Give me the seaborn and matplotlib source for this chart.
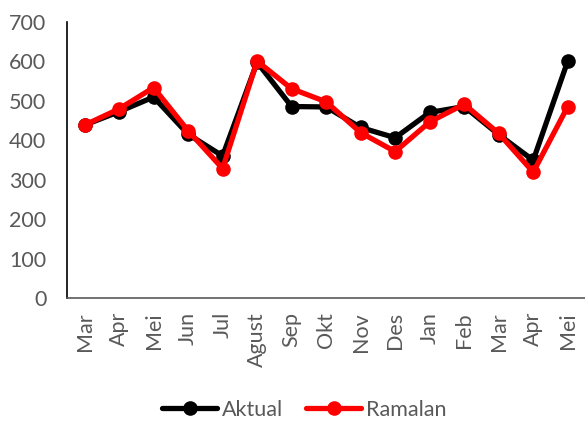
import pandas as pd
import matplotlib.pyplot as plt
import seaborn as sns

bulan = ["Mar", "Apr", "Mei", "Jun", "Jul", "Agust", "Sep", "Okt",
         "Nov", "Des", "Jan", "Feb", "Mar", "Apr", "Mei"]
aktual = [438, 472, 509, 415, 360, 597, 485, 484, 432, 406, 470, 485, 414, 349, 600]
ramalan = [438, 479, 533, 424, 328, 600, 530, 497, 419, 371, 446, 491, 417, 319, 485]

sns.set_style("white")
plt.rcParams["font.family"] = ["Lato", "DejaVu Sans"]

df = pd.DataFrame({
    "idx": list(range(len(bulan))) * 2,
    "nilai": aktual + ramalan,
    "seri": ["Aktual"] * len(bulan) + ["Ramalan"] * len(bulan),
})

fig = plt.figure(figsize=(5.85, 4.23), dpi=100)
ax = fig.add_axes([0.115, 0.295, 0.885, 0.654])

sns.lineplot(data=df, x="idx", y="nilai", hue="seri", sort=False,
             palette={"Aktual": "black", "Ramalan": "#ff0000"},
             marker="o", markersize=10.5, markeredgewidth=0,
             linewidth=3.8, ax=ax, legend=False)

ax.set_xlim(-0.5, len(bulan) - 0.5)
ax.set_ylim(0, 700)
ax.set_yticks(range(0, 701, 100))
ax.set_xticks(range(len(bulan)))
ax.set_xticklabels(bulan, rotation=90)
ax.set_xlabel("")
ax.set_ylabel("")
ax.tick_params(axis="both", length=0, labelsize=15.5, labelcolor="#595959")
ax.tick_params(axis="y", pad=15)
ax.tick_params(axis="x", pad=10)

sns.despine(ax=ax)
ax.spines["left"].set_color("black")
ax.spines["left"].set_linewidth(1.2)
ax.spines["bottom"].set_color("#595959")
ax.spines["bottom"].set_linewidth(1.2)

handles = [plt.Line2D([], [], color=c, linewidth=3.8, marker="o", markersize=10.5,
                      markeredgewidth=0) for c in ["black", "#ff0000"]]
fig.legend(handles, ["Aktual", "Ramalan"], loc="lower center",
           bbox_to_anchor=(0.52, -0.038), ncol=2, frameon=False,
           fontsize=15.5, labelcolor="#595959", handlelength=2.55,
           handletextpad=0.2, columnspacing=1.1)

fig.savefig("out.png", dpi=100)
